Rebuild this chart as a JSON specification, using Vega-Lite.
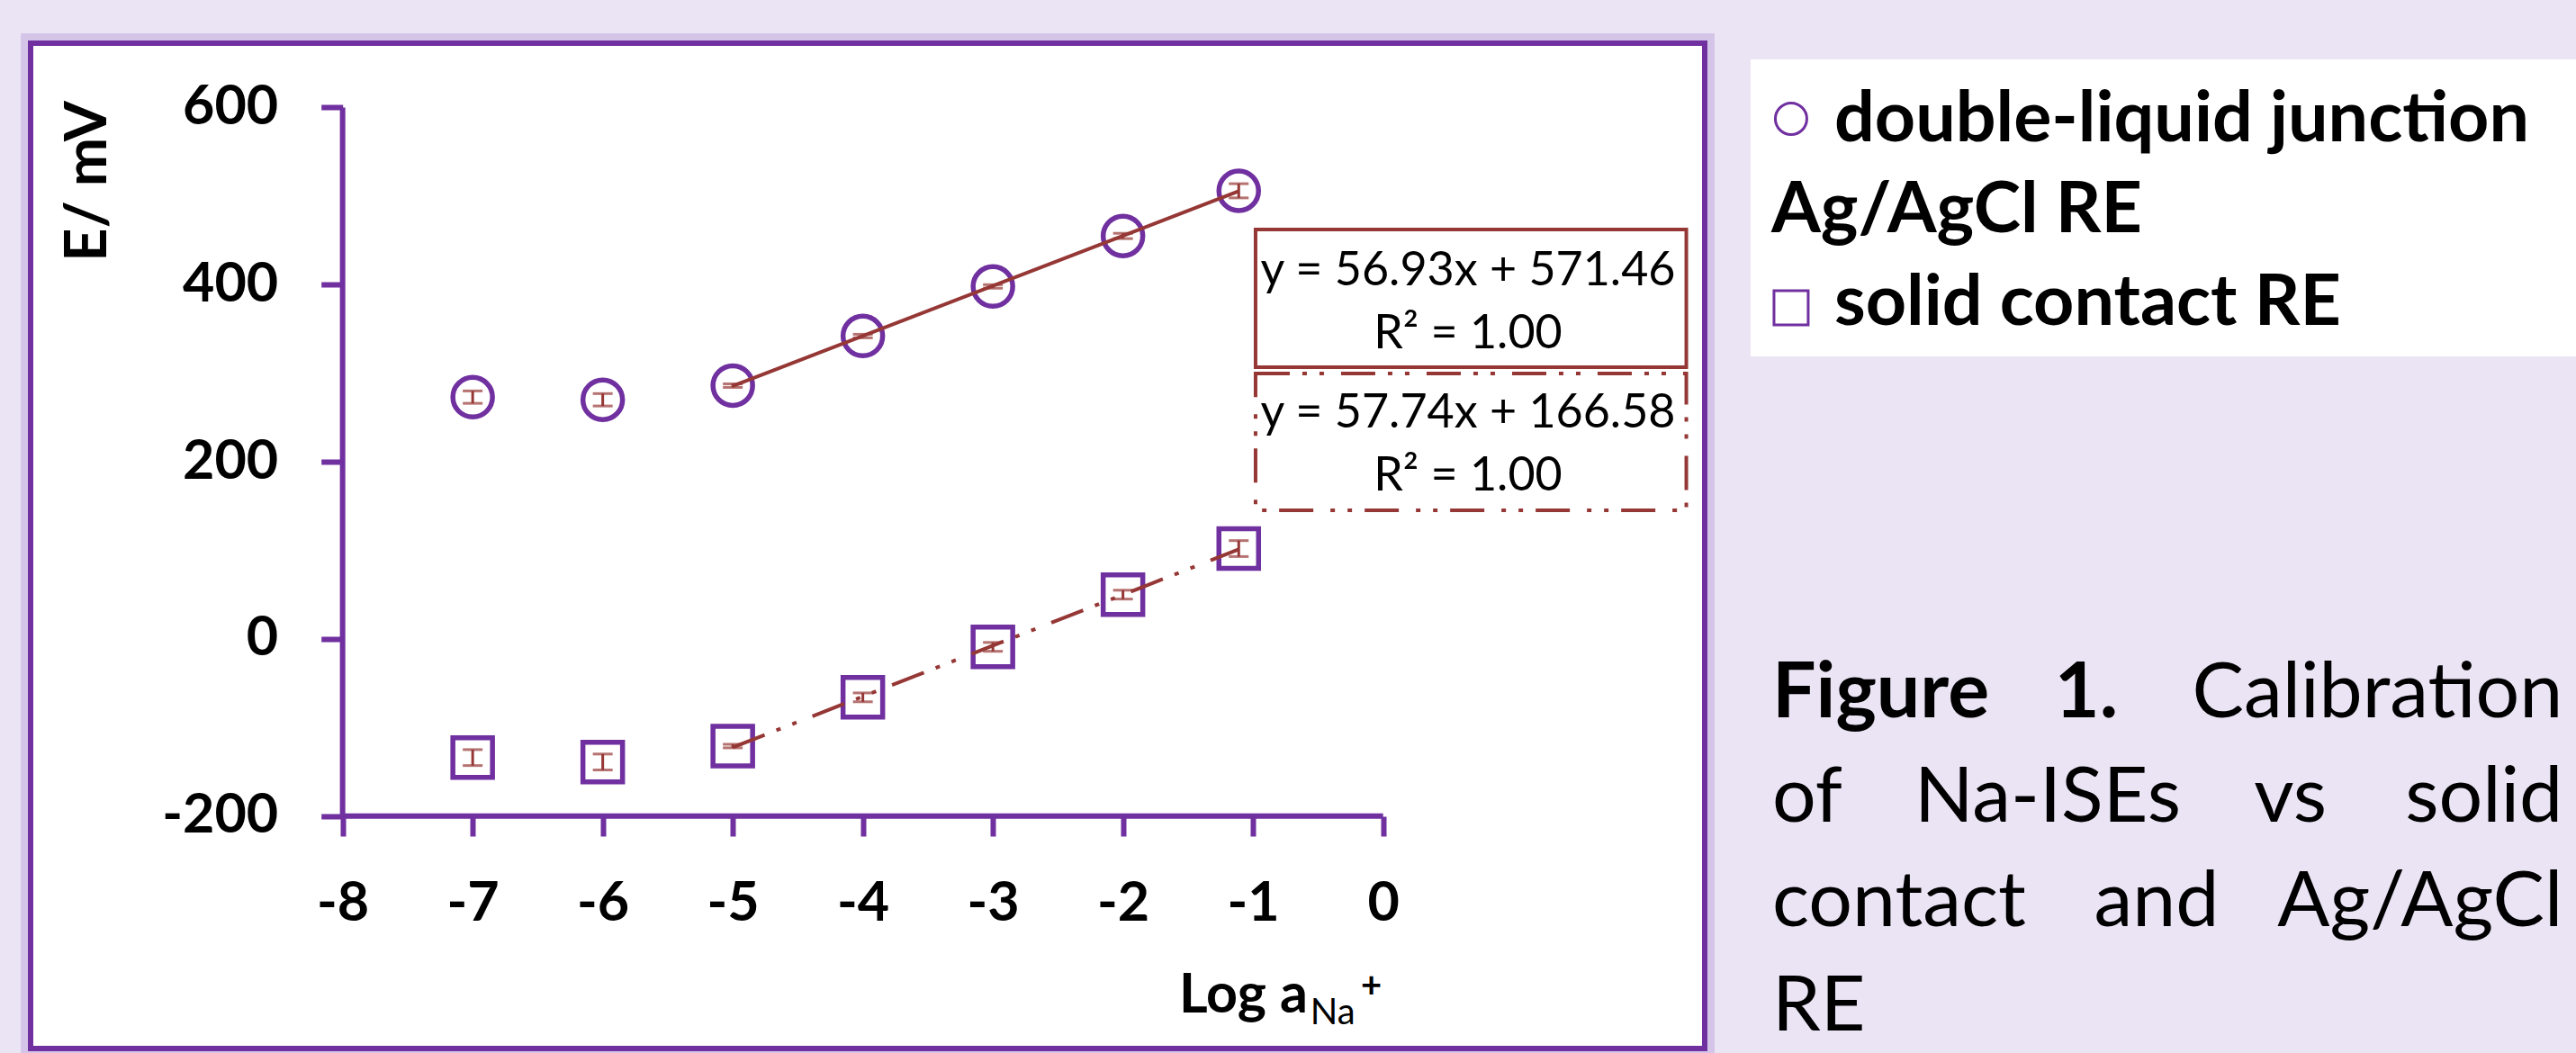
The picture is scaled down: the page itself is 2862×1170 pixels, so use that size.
{
  "$schema": "https://vega.github.io/schema/vega-lite/v6.json",
  "width": 1860,
  "height": 1117,
  "autosize": {"type": "none"},
  "padding": {"left": 34, "top": 48, "right": 968, "bottom": 5},
  "background": "#EBE4F5",
  "config": {"view": {"fill": "#FFFFFF", "stroke": "#7030A0", "strokeWidth": 6}, "font": "Lato"},
  "datasets": {
    "points": [
      {"series": "dlj", "logA": -7, "E": 273, "err": 7},
      {"series": "dlj", "logA": -6, "E": 270, "err": 7},
      {"series": "dlj", "logA": -5, "E": 286, "err": 2},
      {"series": "dlj", "logA": -4, "E": 342, "err": 2},
      {"series": "dlj", "logA": -3, "E": 398, "err": 2},
      {"series": "dlj", "logA": -2, "E": 455, "err": 3},
      {"series": "dlj", "logA": -1.11, "E": 506, "err": 8},
      {"series": "sc", "logA": -7, "E": -134, "err": 9},
      {"series": "sc", "logA": -6, "E": -139, "err": 9},
      {"series": "sc", "logA": -5, "E": -121, "err": 2},
      {"series": "sc", "logA": -4, "E": -66, "err": 5},
      {"series": "sc", "logA": -3, "E": -9, "err": 5},
      {"series": "sc", "logA": -2, "E": 50, "err": 5},
      {"series": "sc", "logA": -1.11, "E": 102, "err": 9}
    ]
  },
  "layer": [
    {
      "data": {"name": "points"},
      "mark": {"type": "point", "filled": false, "stroke": "#7030A0", "strokeWidth": 5.5, "size": 1936, "opacity": 1},
      "encoding": {
        "x": {
          "field": "logA", "type": "quantitative",
          "scale": {"domain": [-10.399, 2.473], "nice": false, "zero": false},
          "axis": {
            "values": [-8, -7, -6, -5, -4, -3, -2, -1, 0],
            "offset": -258, "domain": false, "grid": false, "zindex": 1,
            "ticks": true, "tickSize": 22, "tickWidth": 6, "tickColor": "#7030A0",
            "labelFont": "Lato", "labelFontSize": 61, "labelFontWeight": "bold", "labelColor": "#000000",
            "labelPadding": 45, "labelFlush": false, "labelOverlap": false,
            "labelExpr": "datum.value + ''",
            "title": null
          }
        },
        "y": {
          "field": "E", "type": "quantitative",
          "scale": {"domain": [-462.5, 672.66], "nice": false, "zero": false},
          "axis": {
            "values": [-200, 0, 200, 400, 600],
            "offset": -346.7, "domain": false, "grid": false, "zindex": 1,
            "ticks": true, "tickSize": 24, "tickWidth": 6, "tickColor": "#7030A0",
            "labelFont": "Lato", "labelFontSize": 61, "labelFontWeight": "bold", "labelColor": "#000000",
            "labelPadding": 48, "labelFlush": false, "labelOverlap": false,
            "labelExpr": "datum.value + ''",
            "title": "E/ mV", "titleFont": "Lato", "titleFontSize": 65, "titleFontWeight": "bold", "titleColor": "#000000",
            "titleAngle": -90, "titleX": -283.7, "titleY": 153, "titleAlign": "center", "titleBaseline": "middle"
          }
        },
        "shape": {"field": "series", "type": "nominal", "scale": {"domain": ["dlj", "sc"], "range": ["circle", "square"]}, "legend": null}
      }
    },
    {
      "data": {"values": [{}]},
      "mark": {"type": "rect", "fill": null, "stroke": "#A98BD2", "strokeWidth": 8, "opacity": 0.35},
      "encoding": {
        "x": {"datum": -10.447, "type": "quantitative"},
        "x2": {"datum": 2.521},
        "y": {"datum": 679.8, "type": "quantitative"},
        "y2": {"datum": -469.6}
      }
    },
    {
      "data": {"values": [{}]},
      "mark": {"type": "rule", "stroke": "#7030A0", "strokeWidth": 6},
      "encoding": {
        "x": {"datum": -8, "type": "quantitative"},
        "x2": {"datum": 0},
        "y": {"datum": -200, "type": "quantitative"}
      }
    },
    {
      "data": {"values": [{}]},
      "mark": {"type": "rule", "stroke": "#7030A0", "strokeWidth": 6},
      "encoding": {
        "x": {"datum": -8, "type": "quantitative"},
        "y": {"datum": -200, "type": "quantitative"},
        "y2": {"datum": 600}
      }
    },
    {
      "data": {"name": "points"},
      "transform": [
        {"filter": "datum.series == 'dlj' && datum.logA >= -5"},
        {"regression": "E", "on": "logA"}
      ],
      "mark": {"type": "line", "stroke": "#953735", "strokeWidth": 4},
      "encoding": {
        "x": {"field": "logA", "type": "quantitative", "title": null},
        "y": {"field": "E", "type": "quantitative", "title": "E/ mV"}
      }
    },
    {
      "data": {"name": "points"},
      "transform": [
        {"filter": "datum.series == 'sc' && datum.logA >= -5"},
        {"regression": "E", "on": "logA"}
      ],
      "mark": {"type": "line", "stroke": "#953735", "strokeWidth": 4, "strokeDash": [38, 14, 5, 14, 5, 19]},
      "encoding": {
        "x": {"field": "logA", "type": "quantitative", "title": null},
        "y": {"field": "E", "type": "quantitative", "title": "E/ mV"}
      }
    },
    {
      "data": {"name": "points"},
      "mark": {"type": "errorbar", "color": "#953735", "thickness": 3, "ticks": {"size": 22, "thickness": 3, "color": "#953735"}},
      "encoding": {
        "x": {"field": "logA", "type": "quantitative", "title": null},
        "y": {"field": "E", "type": "quantitative", "title": "E/ mV"},
        "yError": {"field": "err"}
      }
    },
    {
      "data": {"values": [{}]},
      "mark": {"type": "rect", "fill": "#FFFFFF", "stroke": "#953735", "strokeWidth": 4, "strokeDash": [38, 14, 5, 14, 5, 19]},
      "encoding": {
        "x": {"datum": -0.9806, "type": "quantitative"},
        "x2": {"datum": 2.3314},
        "y": {"datum": 299.7, "type": "quantitative"},
        "y2": {"datum": 145.2}
      }
    },
    {
      "data": {"values": [{}]},
      "mark": {"type": "rect", "fill": "#FFFFFF", "stroke": "#953735", "strokeWidth": 4},
      "encoding": {
        "x": {"datum": -0.9806, "type": "quantitative"},
        "x2": {"datum": 2.3314},
        "y": {"datum": 462.3, "type": "quantitative"},
        "y2": {"datum": 306.8}
      }
    },
    {
      "data": {"values": [{}]},
      "mark": {"type": "text", "text": "y = 56.93x + 571.46", "font": "Lato", "fontSize": 52, "align": "center", "baseline": "alphabetic", "color": "#000000"},
      "encoding": {"x": {"datum": 0.6526, "type": "quantitative"}, "y": {"datum": 399.3, "type": "quantitative"}}
    },
    {
      "data": {"values": [{}]},
      "mark": {"type": "text", "text": "R² = 1.00", "font": "Lato", "fontSize": 52, "align": "center", "baseline": "alphabetic", "color": "#000000"},
      "encoding": {"x": {"datum": 0.6526, "type": "quantitative"}, "y": {"datum": 328.2, "type": "quantitative"}}
    },
    {
      "data": {"values": [{}]},
      "mark": {"type": "text", "text": "y = 57.74x + 166.58", "font": "Lato", "fontSize": 52, "align": "center", "baseline": "alphabetic", "color": "#000000"},
      "encoding": {"x": {"datum": 0.6526, "type": "quantitative"}, "y": {"datum": 238.8, "type": "quantitative"}}
    },
    {
      "data": {"values": [{}]},
      "mark": {"type": "text", "text": "R² = 1.00", "font": "Lato", "fontSize": 52, "align": "center", "baseline": "alphabetic", "color": "#000000"},
      "encoding": {"x": {"datum": 0.6526, "type": "quantitative"}, "y": {"datum": 167.6, "type": "quantitative"}}
    },
    {
      "data": {"values": [{}]},
      "mark": {"type": "text", "text": "Log a", "font": "Lato", "fontSize": 61, "fontWeight": "bold", "align": "left", "baseline": "alphabetic", "color": "#000000"},
      "encoding": {"x": {"datum": -1.5689, "type": "quantitative"}, "y": {"datum": -421.9, "type": "quantitative"}}
    },
    {
      "data": {"values": [{}]},
      "mark": {"type": "text", "text": "Na", "font": "Lato", "fontSize": 40, "align": "left", "baseline": "alphabetic", "color": "#000000"},
      "encoding": {"x": {"datum": -0.56, "type": "quantitative"}, "y": {"datum": -435.1, "type": "quantitative"}}
    },
    {
      "data": {"values": [{}]},
      "mark": {"type": "text", "text": "+", "font": "Lato", "fontSize": 40, "fontWeight": "bold", "align": "left", "baseline": "alphabetic", "color": "#000000"},
      "encoding": {"x": {"datum": -0.17, "type": "quantitative"}, "y": {"datum": -404.1, "type": "quantitative"}}
    },
    {
      "data": {"values": [{}]},
      "mark": {"type": "rect", "fill": "#FFFFFF"},
      "encoding": {
        "x": {"datum": 2.8256, "type": "quantitative"},
        "x2": {"datum": 9.3},
        "y": {"datum": 654.4, "type": "quantitative"},
        "y2": {"datum": 319.0}
      }
    },
    {
      "data": {"values": [{}]},
      "mark": {"type": "point", "shape": "circle", "filled": false, "stroke": "#7030A0", "strokeWidth": 3, "size": 1225, "opacity": 1},
      "encoding": {"x": {"datum": 3.137, "type": "quantitative"}, "y": {"datum": 587.3, "type": "quantitative"}}
    },
    {
      "data": {"values": [{}]},
      "mark": {"type": "point", "shape": "square", "filled": false, "stroke": "#7030A0", "strokeWidth": 3, "size": 1444, "opacity": 1},
      "encoding": {"x": {"datum": 3.137, "type": "quantitative"}, "y": {"datum": 373.9, "type": "quantitative"}}
    },
    {
      "data": {"values": [{}]},
      "mark": {"type": "text", "text": "double-liquid junction", "font": "Lato", "fontSize": 79, "fontWeight": "bold", "align": "left", "baseline": "alphabetic", "color": "#000000"},
      "encoding": {"x": {"datum": 3.469, "type": "quantitative"}, "y": {"datum": 561.9, "type": "quantitative"}}
    },
    {
      "data": {"values": [{}]},
      "mark": {"type": "text", "text": "Ag/AgCl RE", "font": "Lato", "fontSize": 79, "fontWeight": "bold", "align": "left", "baseline": "alphabetic", "color": "#000000"},
      "encoding": {"x": {"datum": 2.985, "type": "quantitative"}, "y": {"datum": 459.2, "type": "quantitative"}}
    },
    {
      "data": {"values": [{}]},
      "mark": {"type": "text", "text": "solid contact RE", "font": "Lato", "fontSize": 79, "fontWeight": "bold", "align": "left", "baseline": "alphabetic", "color": "#000000"},
      "encoding": {"x": {"datum": 3.469, "type": "quantitative"}, "y": {"datum": 354.6, "type": "quantitative"}}
    },
    {
      "data": {"values": [{}]},
      "mark": {"type": "text", "text": "Figure", "font": "Lato", "fontSize": 86, "fontWeight": "bold", "align": "left", "baseline": "alphabetic", "color": "#000000"},
      "encoding": {"x": {"datum": 2.992, "type": "quantitative"}, "y": {"datum": -88.5, "type": "quantitative"}}
    },
    {
      "data": {"values": [{}]},
      "mark": {"type": "text", "text": "1.", "font": "Lato", "fontSize": 86, "fontWeight": "bold", "align": "center", "baseline": "alphabetic", "color": "#000000"},
      "encoding": {"x": {"datum": 5.407, "type": "quantitative"}, "y": {"datum": -88.5, "type": "quantitative"}}
    },
    {
      "data": {"values": [{}]},
      "mark": {"type": "text", "text": "Calibration", "font": "Lato", "fontSize": 86, "align": "right", "baseline": "alphabetic", "color": "#000000"},
      "encoding": {"x": {"datum": 9.07, "type": "quantitative"}, "y": {"datum": -88.5, "type": "quantitative"}}
    },
    {
      "data": {"values": [{}]},
      "mark": {"type": "text", "text": "of", "font": "Lato", "fontSize": 86, "align": "left", "baseline": "alphabetic", "color": "#000000"},
      "encoding": {"x": {"datum": 2.992, "type": "quantitative"}, "y": {"datum": -206.4, "type": "quantitative"}}
    },
    {
      "data": {"values": [{}]},
      "mark": {"type": "text", "text": "Na-ISEs", "font": "Lato", "fontSize": 86, "align": "center", "baseline": "alphabetic", "color": "#000000"},
      "encoding": {"x": {"datum": 5.109, "type": "quantitative"}, "y": {"datum": -206.4, "type": "quantitative"}}
    },
    {
      "data": {"values": [{}]},
      "mark": {"type": "text", "text": "vs", "font": "Lato", "fontSize": 86, "align": "center", "baseline": "alphabetic", "color": "#000000"},
      "encoding": {"x": {"datum": 6.975, "type": "quantitative"}, "y": {"datum": -206.4, "type": "quantitative"}}
    },
    {
      "data": {"values": [{}]},
      "mark": {"type": "text", "text": "solid", "font": "Lato", "fontSize": 86, "align": "right", "baseline": "alphabetic", "color": "#000000"},
      "encoding": {"x": {"datum": 9.07, "type": "quantitative"}, "y": {"datum": -206.4, "type": "quantitative"}}
    },
    {
      "data": {"values": [{}]},
      "mark": {"type": "text", "text": "contact", "font": "Lato", "fontSize": 86, "align": "left", "baseline": "alphabetic", "color": "#000000"},
      "encoding": {"x": {"datum": 2.992, "type": "quantitative"}, "y": {"datum": -324.3, "type": "quantitative"}}
    },
    {
      "data": {"values": [{}]},
      "mark": {"type": "text", "text": "and", "font": "Lato", "fontSize": 86, "align": "center", "baseline": "alphabetic", "color": "#000000"},
      "encoding": {"x": {"datum": 5.947, "type": "quantitative"}, "y": {"datum": -324.3, "type": "quantitative"}}
    },
    {
      "data": {"values": [{}]},
      "mark": {"type": "text", "text": "Ag/AgCl", "font": "Lato", "fontSize": 86, "align": "right", "baseline": "alphabetic", "color": "#000000"},
      "encoding": {"x": {"datum": 9.07, "type": "quantitative"}, "y": {"datum": -324.3, "type": "quantitative"}}
    },
    {
      "data": {"values": [{}]},
      "mark": {"type": "text", "text": "RE", "font": "Lato", "fontSize": 86, "align": "left", "baseline": "alphabetic", "color": "#000000"},
      "encoding": {"x": {"datum": 2.992, "type": "quantitative"}, "y": {"datum": -442.2, "type": "quantitative"}}
    }
  ]
}
